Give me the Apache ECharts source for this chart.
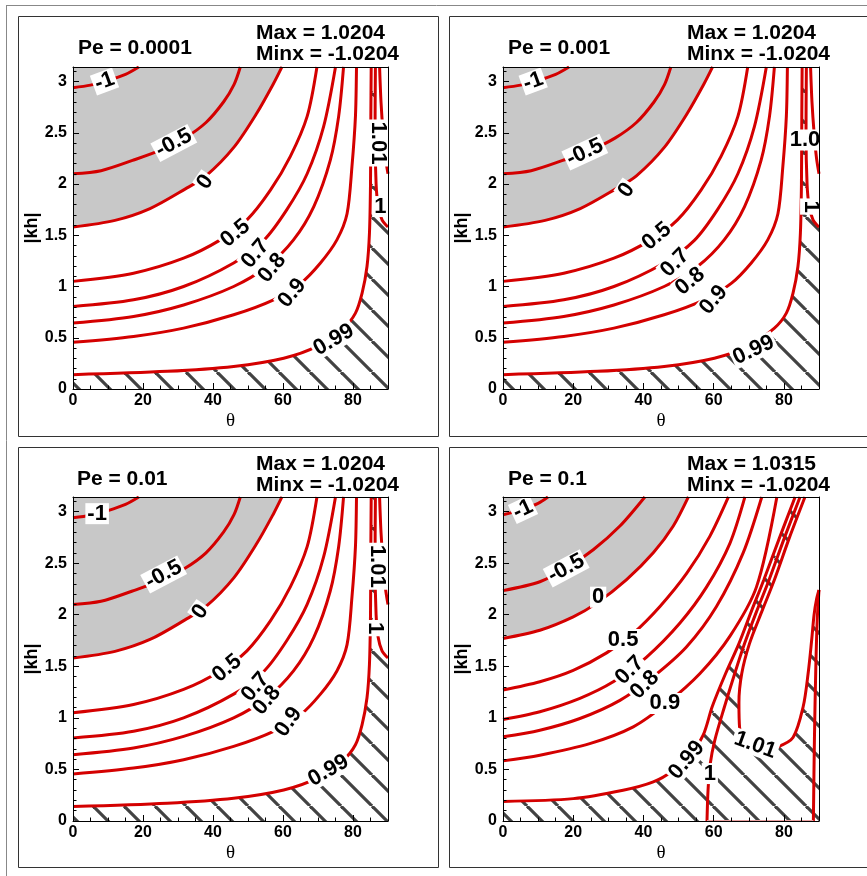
<!DOCTYPE html>
<html><head><meta charset="utf-8">
<script src="https://cdn.jsdelivr.net/npm/echarts@6/dist/echarts.min.js"></script>
<style>html,body{margin:0;padding:0;background:#fff}#c{width:867px;height:876px}</style>
</head><body><div id="c"></div>
<script>
// ---------- texts ----------
const peTexts = ['Pe = 0.0001', 'Pe = 0.001', 'Pe = 0.01', 'Pe = 0.1'];
const maxTexts = ['Max = 1.0204', 'Max = 1.0204', 'Max = 1.0204', 'Max = 1.0315'];
const minTexts = ['Minx = -1.0204', 'Minx = -1.0204', 'Minx = -1.0204', 'Minx = -1.0204'];
const xName = 'θ';
const yName = '|kh|';

// ---------- contours, small Pe (panels 1-3) [theta, |kh|] ----------
const low_m1  = [[0,2.94],[5,2.965],[10,3.01],[15,3.07],[18.8,3.142]];
const low_m05 = [[0,2.10],[8,2.13],[17,2.23],[25,2.33],[32,2.45],[38,2.60],[43,2.80],[46,2.97],[47.8,3.142]];
const low_0   = [[0,1.58],[12,1.645],[22,1.76],[32,1.95],[38,2.08],[46,2.36],[52.5,2.69],[57.3,2.98],[59.7,3.142]];
const low_05  = [[0,1.05],[17.3,1.13],[31.6,1.276],[42.1,1.455],[49.7,1.65],[56.4,1.94],[62.1,2.27],[66.9,2.66],[69.7,3.142]];
const low_07  = [[0,0.805],[17.3,0.87],[31.6,1.0],[45.9,1.23],[54.5,1.45],[61.1,1.75],[66.9,2.10],[71.6,2.56],[75,3.142]];
const low_08  = [[0,0.643],[17.3,0.708],[31.6,0.82],[45.9,1.0],[55.4,1.195],[63,1.455],[68.8,1.78],[73.5,2.23],[75.9,2.66],[77.3,3.142]];
const low_09  = [[0,0.455],[17.3,0.513],[31.6,0.594],[45.9,0.724],[57.3,0.87],[65,1.03],[70.7,1.23],[75.4,1.455],[78.3,1.71],[79.7,2.17],[80.7,2.66],[81,3.142]];
const low_099 = [[0,0.14],[26.9,0.172],[45.9,0.22],[60.2,0.30],[69.7,0.415],[77.3,0.594],[80.7,0.74],[82.6,0.935],[84,1.195],[84.7,1.52],[85,2.0],[85.1,2.66],[85.2,3.142]];
const low_1   = [[86.4,3.142],[86.3,2.5],[86.6,2.0],[87.2,1.78],[88.3,1.65],[90,1.58]];
const low_101 = [[87.6,3.142],[88.0,2.8],[88.6,2.5],[89.3,2.25],[90,2.1]];

// ---------- contours, Pe = 0.1 (panel 4) ----------
const hi_m1  = [[0,2.97],[5,3.015],[10,3.08],[12.8,3.142]];
const hi_m05 = [[0,2.234],[10.5,2.32],[18,2.45],[25.7,2.63],[33.3,2.86],[40.4,3.142]];
const hi_0   = [[0,1.77],[10.5,1.85],[20,1.98],[26.6,2.11],[35.2,2.34],[42.8,2.6],[48.5,2.86],[52.8,3.142]];
const hi_05  = [[0,1.27],[10.5,1.35],[20,1.46],[29.5,1.63],[37.1,1.82],[44.7,2.08],[52.3,2.4],[58.9,2.76],[64.2,3.142]];
const hi_07  = [[0,0.985],[10.5,1.06],[21.9,1.19],[31.4,1.35],[40.9,1.59],[50.4,1.92],[58,2.27],[64.6,2.69],[68.9,3.142]];
const hi_08  = [[0,0.816],[10.5,0.88],[21.9,0.994],[33.3,1.17],[42.8,1.4],[52.3,1.69],[60.8,2.08],[68.4,2.6],[73.7,3.142]];
const hi_09  = [[0,0.583],[10.5,0.638],[24.7,0.75],[37.1,0.913],[46.6,1.14],[56.1,1.43],[64.6,1.79],[72.2,2.27],[78,3.142]];
const hi_099 = [[0,0.19],[20,0.217],[34.2,0.298],[42.8,0.379],[48.5,0.49],[53.2,0.638],[57,0.832],[59.6,1.11],[63.4,1.43],[67.2,1.72],[70.7,2.03],[74.3,2.34],[78.8,2.75],[83.2,3.142]];
const hi_1   = [[84.6,3.142],[80.2,2.75],[75.8,2.34],[72.2,2.03],[68.8,1.72],[66.0,1.43],[63.1,1.11],[60.3,0.78],[59,0.55],[58.4,0.3],[58.1,0]];
const hi_1b  = [[58.1,0],[88.4,0]];
const hi_1r  = [[88.4,0],[88.7,0.8],[89.1,1.5],[89.5,1.95],[90,2.24]];
const hi_101 = [[86.0,3.142],[81.6,2.75],[77.3,2.34],[73.7,2.03],[70.2,1.72],[68.0,1.43],[67.2,1.15],[67.4,0.9],[69,0.75],[73,0.68],[78.3,0.72],[82.6,0.81],[85.5,1.11],[86.9,1.43],[87.9,1.75],[88.6,2.0],[89.3,2.15],[90,2.24]];

// ---------- contour labels [theta, |kh|, text] ----------
const labels1 = [[9.0,3.0,'-1'],[28.8,2.40,'-0.5'],[37.8,2.02,'0'],[46.4,1.52,'0.5'],[52.1,1.32,'0.7'],[56.9,1.18,'0.8'],[62.6,0.935,'0.9'],[74.5,0.48,'0.99'],[87.3,2.40,'1.01'],[87.8,1.78,'1']];
const labels2 = [[8.6,3.0,'-1'],[23.3,2.31,'-0.5'],[35.2,1.94,'0'],[43.8,1.49,'0.5'],[49,1.23,'0.7'],[53.3,1.05,'0.8'],[60,0.87,'0.9'],[71.4,0.38,'0.99'],[86.0,2.43,'1.0'],[87.6,1.78,'1']];
const labels3 = [[6.9,2.98,'-1'],[25.9,2.39,'-0.5'],[36.4,2.03,'0'],[44,1.48,'0.5'],[52.1,1.30,'0.7'],[55.4,1.17,'0.8'],[61.6,0.96,'0.9'],[73,0.49,'0.99'],[86.9,2.47,'1.01'],[86.4,1.87,'1']];
const labels4 = [[5.7,3.02,'-1'],[18,2.45,'-0.5'],[27.1,2.17,'0'],[34.2,1.76,'0.5'],[36.1,1.46,'0.7'],[40.4,1.32,'0.8'],[46.1,1.14,'0.9'],[52.3,0.59,'0.99'],[58.9,0.46,'1'],[71.8,0.735,'1.01']];
// label rotations (style)
const rot1 = [20,28,55,40,50,50,50,30,-90,0];
const rot2 = [20,25,55,40,45,40,50,25,0,-90];
const rot3 = [0,28,55,40,50,50,55,30,-90,-90];
const rot4 = [25,28,0,0,45,45,0,50,0,-20];

// ---------- layout / style ----------
const RED = '#d40000';
const FONT = '"Liberation Sans", Arial, sans-serif';
const grids = [
  {left:73, top:67, width:315, height:322},
  {left:503, top:67, width:316, height:322},
  {left:73, top:497, width:315, height:324},
  {left:503, top:497, width:316, height:324}
];
const boxes = [[18,16,420,420],[449,16,440,420],[18,447,420,420],[449,447,440,420]];

function makeHatch(){
  const s = 31, c = document.createElement('canvas');
  c.width = s; c.height = s;
  const g = c.getContext('2d');
  g.strokeStyle = '#424242'; g.lineWidth = 3.2;
  for (let k = -1; k <= 1; k++) { g.beginPath(); g.moveTo(k*s, 0); g.lineTo(k*s + s, s); g.stroke(); }
  return c;
}
const hatch = {image: makeHatch(), repeat: 'repeat'};

function polyS(g, pts, fill, z){
  return {type:'custom', xAxisIndex:g*3, yAxisIndex:g*3, coordinateSystem:'cartesian2d',
    clip:true, silent:true, z:z, data:[[0,0]],
    renderItem:function(params, api){
      return {type:'polygon', shape:{points: pts.map(p => api.coord(p))}, style:{fill: fill}};
    }};
}
function lineS(g, data, color, width){
  return {type:'line', xAxisIndex:g*3, yAxisIndex:g*3, data:data, symbol:'none', showSymbol:false,
    smooth:0.3, clip:true, silent:true, z:3, lineStyle:{color:color || RED, width:width || 3}};
}
function labS(g, labs, rots){
  return {type:'scatter', xAxisIndex:g*3, yAxisIndex:g*3, symbolSize:0, silent:true, z:4,
    itemStyle:{opacity:1},
    label:{show:true, position:'inside', color:'#000', fontWeight:'bold', fontSize:22, fontFamily:FONT,
      backgroundColor:'#fff', padding:[0,2,-1,2], opacity:1},
    data: labs.map((l,i) => ({value:[l[0], l[1]], label:{formatter:l[2], rotate:rots[i]}}))};
}

const series = [];
const lowSets = [low_m1, low_m05, low_0, low_05, low_07, low_08, low_09, low_099, low_1, low_101];
const hiSets = [hi_m1, hi_m05, hi_0, hi_05, hi_07, hi_08, hi_09, hi_099, hi_1, hi_1r, hi_101];
const allLabels = [labels1, labels2, labels3, labels4];
const allRots = [rot1, rot2, rot3, rot4];
for (let g = 0; g < 4; g++) {
  const hi = g === 3;
  const zero = hi ? hi_0 : low_0;
  series.push(polyS(g, zero.concat([[0,3.142]]), '#c8c8c8', 1));
  const hatchPoly = hi ? hi_099.concat(hi_101, [[90,0],[0,0]]) : low_099.concat(low_1, [[90,0],[0,0]]);
  series.push(polyS(g, hatchPoly, hatch, 2));
  (hi ? hiSets : lowSets).forEach(d => series.push(lineS(g, d)));
  if (hi) series.push(lineS(g, hi_1b, '#e9a0a0', 2));
  series.push(labS(g, allLabels[g], allRots[g]));
}

const xAxis = [], yAxis = [];
for (let g = 0; g < 4; g++) {
  xAxis.push({gridIndex:g, type:'value', min:0, max:90, interval:20, position:'bottom', z:10,
    axisLine:{onZero:false, lineStyle:{color:'#000', width:1}},
    axisTick:{inside:true, length:6, lineStyle:{color:'#000'}}, splitLine:{show:false},
    axisLabel:{color:'#000', fontWeight:'bold', fontSize:16, fontFamily:FONT, margin:4, showMaxLabel:false},
    name:xName, nameLocation:'middle', nameGap:23,
    nameTextStyle:{fontFamily:'"Liberation Serif", serif', fontSize:19, color:'#000'}});
  xAxis.push({gridIndex:g, type:'value', min:0, max:90, interval:5, position:'bottom', z:10,
    axisLine:{show:false, onZero:false}, axisTick:{inside:true, length:3.5, lineStyle:{color:'#000'}},
    axisLabel:{show:false}, splitLine:{show:false}});
  xAxis.push({gridIndex:g, type:'value', min:0, max:90, position:'top', z:10,
    axisLine:{onZero:false, lineStyle:{color:'#000', width:1}}, axisTick:{show:false},
    axisLabel:{show:false}, splitLine:{show:false}});
  yAxis.push({gridIndex:g, type:'value', min:0, max:Math.PI, interval:0.5, position:'left', z:10,
    axisLine:{onZero:false, lineStyle:{color:'#000', width:1}},
    axisTick:{inside:true, length:6, lineStyle:{color:'#000'}}, splitLine:{show:false},
    axisLabel:{color:'#000', fontWeight:'bold', fontSize:16, fontFamily:FONT, margin:6, showMaxLabel:false,
      formatter: v => (Math.abs(v*2 - Math.round(v*2)) < 1e-6 ? String(Math.round(v*2)/2) : '')},
    name:yName, nameLocation:'middle', nameGap:31, nameRotate:90,
    nameTextStyle:{fontFamily:FONT, fontWeight:'bold', fontSize:18, color:'#000'}});
  yAxis.push({gridIndex:g, type:'value', min:0, max:Math.PI, interval:0.1, position:'left', z:10,
    axisLine:{show:false, onZero:false}, axisTick:{inside:true, length:3.5, lineStyle:{color:'#000'}},
    axisLabel:{show:false}, splitLine:{show:false}});
  yAxis.push({gridIndex:g, type:'value', min:0, max:Math.PI, position:'right', z:10,
    axisLine:{onZero:false, lineStyle:{color:'#000', width:1}}, axisTick:{show:false},
    axisLabel:{show:false}, splitLine:{show:false}});
}

const graphic = [
  {type:'line', shape:{x1:6, y1:5.5, x2:867, y2:5.5}, style:{stroke:'#888', lineWidth:1}},
  {type:'line', shape:{x1:6.5, y1:5, x2:6.5, y2:876}, style:{stroke:'#888', lineWidth:1}}
];
boxes.forEach(b => graphic.push({type:'rect', shape:{x:b[0]+0.5, y:b[1]+0.5, width:b[2], height:b[3]},
  style:{fill:'none', stroke:'#333', lineWidth:1}}));
const textPos = [[78,256,16],[508,687,16],[77,256,447],[508,687,447]];
for (let g = 0; g < 4; g++) {
  const [px, mx, top] = textPos[g];
  const mk = (x, y, t) => ({type:'text', x:x, y:y, z:20,
    style:{text:t, font:'bold 21px ' + FONT, fill:'#000', textVerticalAlign:'middle', verticalAlign:'middle'}});
  graphic.push(mk(px, top + 32.5, peTexts[g]));
  graphic.push(mk(mx, top + 17.5, maxTexts[g]));
  graphic.push(mk(mx, top + 38, minTexts[g]));
}

const chart = echarts.init(document.getElementById('c'), null, {renderer:'canvas'});
chart.setOption({animation:false, backgroundColor:'#fff', grid:grids, xAxis:xAxis, yAxis:yAxis,
  series:series, graphic:graphic});
</script></body></html>
